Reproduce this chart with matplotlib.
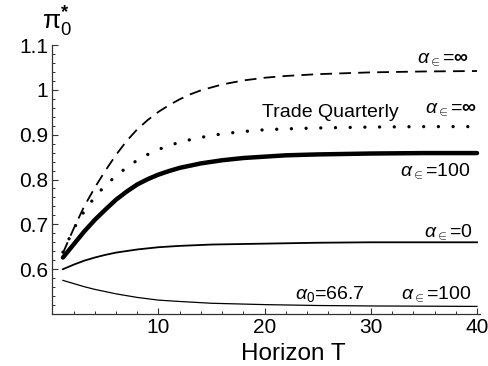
import matplotlib.pyplot as plt
from matplotlib.ticker import MultipleLocator, FixedLocator, FixedFormatter

plt.rcParams['font.family'] = ['Liberation Sans', 'DejaVu Sans']
plt.rcParams['mathtext.fontset'] = 'custom'
plt.rcParams['mathtext.rm'] = 'Liberation Sans'
plt.rcParams['mathtext.it'] = 'Liberation Sans:italic'
plt.rcParams['mathtext.bf'] = 'Liberation Sans:bold'

# horizon values
T_full = [1, 2, 3, 4, 5, 6, 7, 8, 9, 10, 11, 12, 13, 14, 16, 18, 20, 22, 25, 30, 35, 40]

# alpha_eps = inf (dashed)
pi_inf = [0.636, 0.69, 0.74, 0.782, 0.82, 0.855, 0.886, 0.912, 0.933, 0.951, 0.966,
          0.979, 0.99, 0.999, 1.012, 1.021, 1.027, 1.031, 1.035, 1.039, 1.041, 1.042]
# trade quarterly, alpha_eps = inf (dotted)
pi_quarterly = [0.638, 0.69, 0.729, 0.761, 0.787, 0.808, 0.827, 0.843, 0.856, 0.867, 0.876,
                0.883, 0.889, 0.894, 0.902, 0.907, 0.911, 0.913, 0.915, 0.917, 0.918, 0.918]
# alpha_eps = 100 (thick)
pi_100 = [0.626, 0.655, 0.684, 0.71, 0.733, 0.755, 0.773, 0.789, 0.801, 0.811, 0.819,
          0.826, 0.831, 0.836, 0.843, 0.848, 0.851, 0.854, 0.856, 0.858, 0.859, 0.859]

T_flat = [1, 2, 3, 4, 5, 6, 8, 10, 12, 15, 20, 25, 30, 40]
# alpha_eps = 0
pi_0 = [0.6, 0.61, 0.619, 0.626, 0.632, 0.637, 0.644, 0.649, 0.652, 0.655,
        0.657, 0.659, 0.66, 0.66]
# alpha_0 = 66.7, alpha_eps = 100
pi_667 = [0.575, 0.568, 0.561, 0.555, 0.55, 0.545, 0.537, 0.531, 0.528, 0.524,
          0.521, 0.519, 0.518, 0.517]

y_ticks = [0.6, 0.7, 0.8, 0.9, 1.0, 1.1]
y_labels = ['0.6', '0.7', '0.8', '0.9', '1', '1.1']

fig = plt.figure(figsize=(4.89, 3.66), dpi=100)
ax = fig.add_axes([0.107, 0.142, 0.875, 0.735])

ax.plot(T_full, pi_inf, color='black', lw=1.3, ls=(0, (6.5, 4)))
ax.plot(T_full, pi_quarterly, color='black', lw=2.4, ls=(0, (0.01, 4.4)),
        dash_capstyle='round')
ax.plot(T_full, pi_100, color='black', lw=3.2, solid_capstyle='round')
ax.plot(T_flat, pi_0, color='black', lw=1.3)
ax.plot(T_flat, pi_667, color='black', lw=0.9)

ax.set_xlim(0, 40.3)
ax.set_ylim(0.5, 1.1)

for s in ['top', 'right']:
    ax.spines[s].set_visible(False)
for s in ['left', 'bottom']:
    ax.spines[s].set_color('#333333')
    ax.spines[s].set_linewidth(0.9)

ax.xaxis.set_major_locator(FixedLocator([10, 20, 30, 40]))
ax.xaxis.set_minor_locator(MultipleLocator(2))
ax.yaxis.set_major_locator(FixedLocator(y_ticks))
ax.yaxis.set_major_formatter(FixedFormatter(y_labels))
ax.yaxis.set_minor_locator(MultipleLocator(0.02))
ax.tick_params(which='both', direction='in', color='#333333', labelsize=15)
ax.tick_params(which='major', length=4.5, width=0.8)
ax.tick_params(which='minor', length=2.5, width=0.7)
ax.tick_params(axis='x', pad=3)
ax.tick_params(axis='y', pad=3)

ax.set_xlabel('Horizon T', fontsize=17.5, labelpad=4, x=0.563)
ax.text(0.45, 1.152, r'$\mathrm{\pi}_0^{\mathbf{*}}$', fontsize=19, ha='center',
        va='center', clip_on=False)

lab = dict(fontsize=14, ha='center', va='center', color='black')
ax.text(36.8, 1.067, r'$\alpha_\in$=$\mathbf{\infty}$', **lab)
ax.text(26.2, 0.949, 'Trade Quarterly', **lab)
ax.text(37.5, 0.956, r'$\alpha_\in$=$\mathbf{\infty}$', **lab)
ax.text(36.1, 0.818, r'$\alpha_\in$=100', **lab)
ax.text(37.3, 0.684, r'$\alpha_\in$=0', **lab)
ax.text(26.1, 0.544, r'$\alpha_0$=66.7', **lab)
ax.text(36.2, 0.544, r'$\alpha_\in$=100', **lab)

fig.savefig('out.png', dpi=100)
